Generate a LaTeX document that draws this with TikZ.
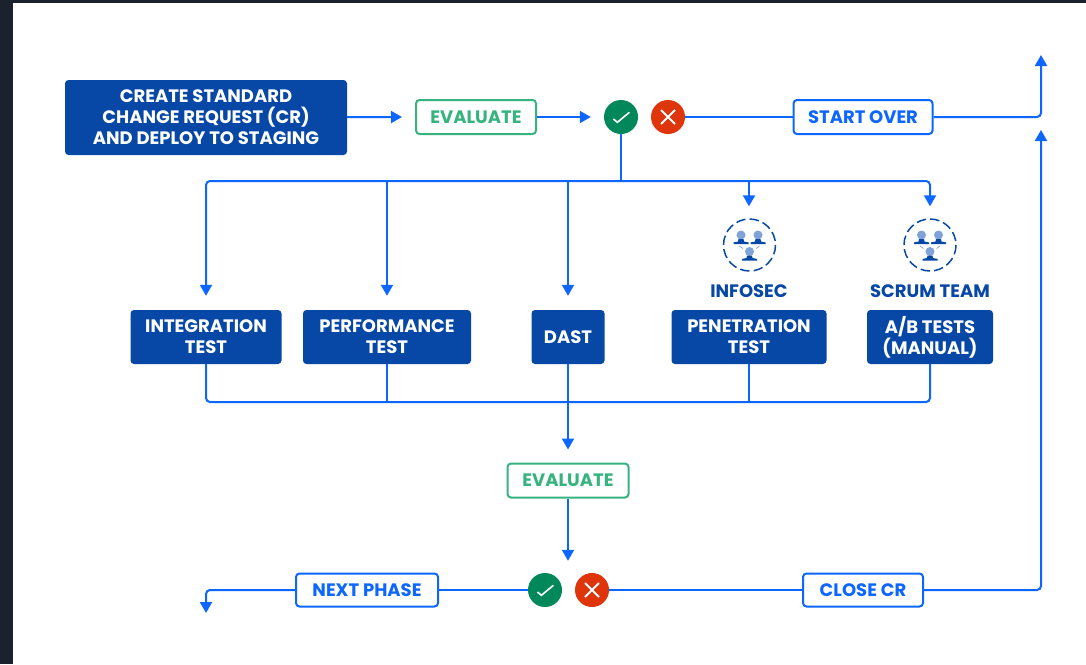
\documentclass[tikz,border=0pt]{standalone}
\usepackage{fontspec}
\setmainfont{Poppins}
\usetikzlibrary{arrows.meta}
\definecolor{flowblue}{HTML}{0C66FF}
\definecolor{boxblue}{HTML}{0747A6}
\definecolor{evalgreen}{HTML}{36B37E}
\definecolor{okgreen}{HTML}{00875A}
\definecolor{badred}{HTML}{DE350B}
\definecolor{headblue}{HTML}{7FA3D9}
\definecolor{pagedark}{HTML}{1B222E}
\tikzset{
    flowline/.style={draw=flowblue,line width=2pt,rounded corners=4pt},
    flowarrow/.style={flowline,-{Triangle[length=11pt,width=12pt]}},
    boxlabel/.style={font=\fontsize{18}{21}\selectfont\bfseries,align=center,inner sep=0pt,rounded corners=3.5pt},
    solidbox/.style={boxlabel,fill=boxblue,text=white},
    linebox/.style={boxlabel,draw=flowblue,line width=2pt,fill=white,text=flowblue},
    evalbox/.style={boxlabel,draw=evalgreen,line width=2pt,fill=white,text=evalgreen},
    teamlabel/.style={font=\fontsize{18}{21}\selectfont\bfseries,text=boxblue,inner sep=0pt},
    okdot/.style={circle,fill=okgreen,minimum size=34pt,inner sep=0pt,
        path picture={\draw[white,line width=1.6pt] (path picture bounding box.center) ++(-7.6,2) -- ++(4,3.3) -- ++(12,-10);}},
    baddot/.style={circle,fill=badred,minimum size=34pt,inner sep=0pt,
        path picture={\draw[white,line width=1.8pt] (path picture bounding box.center) ++(-7,-7) -- ++(14,14) ++(-14,0) -- ++(14,-14);}},
    person/.pic={
        \fill[headblue] (0,0) circle (4.5);
        \fill[boxblue] (-2.5,4) -- (2.5,4) -- (3,6.5) -- (7.5,7.4) -- (7.5,9.2) -- (-7.5,9.2) -- (-7.5,7.4) -- (-3,6.5) -- cycle;
    },
    team/.pic={
        \draw[boxblue,line width=1.5pt,dash pattern=on 9.5pt off 4.1pt] (0,0) circle (26);
        \pic at (-8.5,-10) {person};
        \pic at (8.5,-10) {person};
        \pic at (0,6.5) {person};
        \draw[headblue,line width=.7pt] (-10,1) -- (-6.5,3.5) (10,1) -- (6.5,3.5);
    },
}
\begin{document}
\begin{tikzpicture}[x=1pt,y=-1pt]
    \useasboundingbox (0,0) rectangle (1086,664);
    \fill[pagedark] (0,0) rectangle (1086,664);
    \fill[white] (13,3) rectangle (1086,664);
    % top row
    \node[solidbox,minimum width=282pt,minimum height=75pt] (createbox) at (206,117.5) {CREATE STANDARD\\CHANGE REQUEST (CR)\\AND DEPLOY TO STAGING};
    \node[evalbox,minimum width=120pt,minimum height=34pt] (evalone) at (476,117) {EVALUATE};
    \node[okdot] (okone) at (621,117) {};
    \node[baddot] (badone) at (668,117) {};
    \node[linebox,minimum width=139pt,minimum height=34pt] (startover) at (863,117) {START OVER};
    \coordinate (exitone) at (1041,55);
    % test boxes
    \node[solidbox,minimum width=151pt,minimum height=54pt] (integration) at (206,337) {INTEGRATION\\TEST};
    \node[solidbox,minimum width=168pt,minimum height=54pt] (performance) at (387,337) {PERFORMANCE\\TEST};
    \node[solidbox,minimum width=73pt,minimum height=54pt] (dast) at (568,337) {DAST};
    \node[solidbox,minimum width=155pt,minimum height=54pt] (penetration) at (749,337) {PENETRATION\\TEST};
    \node[solidbox,minimum width=126pt,minimum height=54pt] (abtests) at (930,337) {A/B TESTS\\(MANUAL)};
    \node[teamlabel] (infosec) at (749,291) {INFOSEC};
    \node[teamlabel] (scrum) at (930,291) {SCRUM TEAM};
    \pic at (749.5,245) {team};
    \pic at (930,245) {team};
    % bottom row
    \node[evalbox,minimum width=121pt,minimum height=34pt] (evaltwo) at (568,480.5) {EVALUATE};
    \node[okdot] (oktwo) at (545,590) {};
    \node[baddot] (badtwo) at (592,590) {};
    \node[linebox,minimum width=142pt,minimum height=33pt] (nextphase) at (367,590) {NEXT PHASE};
    \node[linebox,minimum width=120pt,minimum height=33pt] (closecr) at (863,590) {CLOSE CR};
    \coordinate (exittwo) at (206,613);
    \coordinate (backup) at (1041,130);
    % buses
    \coordinate (topbus) at (621,181);
    \coordinate (lowbus) at (568,402);
    % connectors
    \draw[flowarrow] (createbox) -- ([xshift=-13pt]evalone.west);
    \draw[flowarrow] (evalone) -- ([xshift=-13pt]okone.west);
    \draw[flowline] (badone) -- (startover);
    \draw[flowarrow] (startover) -| (exitone);
    \draw[flowline] (okone) -- (topbus);
    \draw[flowarrow] (topbus) -| ([yshift=14pt]integration.north);
    \draw[flowarrow] (topbus -| performance) -- ([yshift=14pt]performance.north);
    \draw[flowarrow] (topbus -| dast) -- ([yshift=14pt]dast.north);
    \draw[flowarrow] (topbus -| infosec) -- ([yshift=78pt]infosec.north);
    \draw[flowarrow] (topbus) -| ([yshift=78pt]scrum.north);
    \draw[flowline] (integration) |- (lowbus);
    \draw[flowline] (abtests) |- (lowbus);
    \draw[flowline] (performance) -- (performance |- lowbus);
    \draw[flowline] (penetration) -- (penetration |- lowbus);
    \draw[flowarrow] (dast) -- ([yshift=13pt]evaltwo.north);
    \draw[flowarrow] (evaltwo) -- ([yshift=12pt]evaltwo.south |- oktwo.north);
    \draw[flowline] (oktwo) -- (nextphase);
    \draw[flowarrow] (nextphase) -| (exittwo);
    \draw[flowline] (badtwo) -- (closecr);
    \draw[flowarrow] (closecr) -| (backup);
\end{tikzpicture}
\end{document}
